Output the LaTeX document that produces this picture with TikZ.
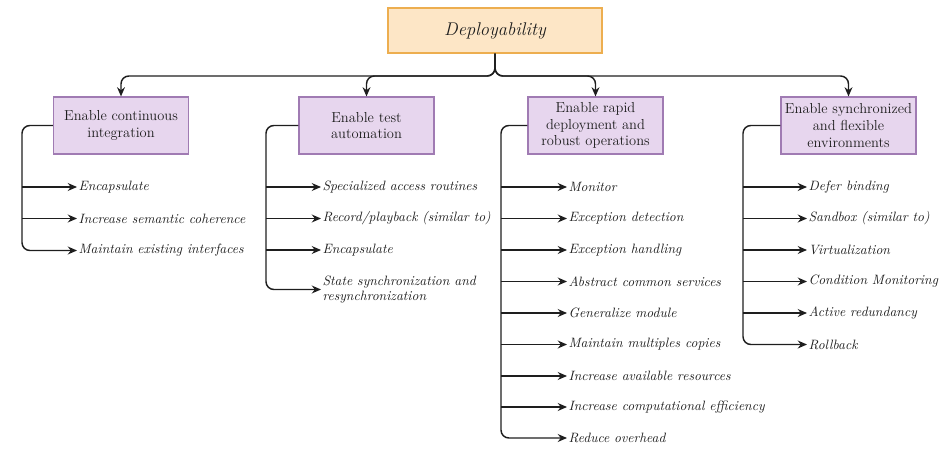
\documentclass[tikz,border=0pt]{standalone}
\usetikzlibrary{arrows.meta}
\definecolor{rootfill}{HTML}{FDE6C6}
\definecolor{rootdraw}{HTML}{EDAE4F}
\definecolor{tacfill}{HTML}{E7D6EE}
\definecolor{tacdraw}{HTML}{A07BB3}
\definecolor{ink}{HTML}{1E1E1E}
\begin{document}
\begin{tikzpicture}[x=0.76pt,y=-0.76pt,
  root/.style={draw=rootdraw, fill=rootfill, line width=1pt, minimum width=162.6pt, minimum height=34.2pt, font=\fontsize{14}{17}\selectfont\itshape, text=ink},
  tactic/.style={draw=tacdraw, fill=tacfill, line width=0.9pt, minimum width=102.6pt, minimum height=43.3pt, align=center, inner sep=2pt, text=ink, font=\fontsize{11}{12.6}\selectfont},
  item/.style={anchor=west, font=\fontsize{10.3}{11.6}\selectfont\itshape, inner sep=1pt, align=left, text=ink},
  link/.style={draw=ink, line width=1.1pt, rounded corners=6pt},
  arr/.style={link, -{Stealth[length=7pt,width=6pt]}},
  branch/.style={arr, rounded corners=0pt}
]
\useasboundingbox (0,0) rectangle (952,449);

% root quality attribute
\node[root] (root) at (495,30.5) {Deployability};
\coordinate (bus) at (0,76);

% tactic categories
\node[tactic] (c1) at (121,125.5) {Enable continuous\\integration};
\node[tactic] (c2) at (366.5,125.5) {Enable test\\automation};
\node[tactic] (c3) at (595.5,125.5) {Enable rapid\\deployment and\\robust operations};
\node[tactic] (c4) at (848.5,125.5) {Enable synchronized\\and flexible\\environments};

\foreach \c in {c1,c2,c3,c4}
  \draw[arr] (root.south) -- (root.south |- bus) -| (\c.north);

% trunks
\coordinate (t1) at (22,0);
\coordinate (t2) at (266,0);
\coordinate (t3) at (501,0);
\coordinate (t4) at (743,0);

% column 1
\node[item] (a1) at (77,187) {Encapsulate};
\node[item] (a2) at (77,218.5) {Increase semantic coherence};
\node[item] (a3) at (77,250.5) {Maintain existing interfaces};
\draw[arr] (c1.west) -| (t1 |- a3.west) -- (a3.west);
\foreach \i in {a1,a2} \draw[branch] (t1 |- \i.west) -- (\i.west);

% column 2
\node[item] (b1) at (321,187) {Specialized access routines};
\node[item] (b2) at (321,218.5) {Record/playback (similar to)};
\node[item] (b3) at (321,250) {Encapsulate};
\node[item] (b4) at (321,289.5) {State synchronization and\\resynchronization};
\draw[arr] (c2.west) -| (t2 |- b4.west) -- (b4.west);
\foreach \i in {b1,b2,b3} \draw[branch] (t2 |- \i.west) -- (\i.west);

% column 3
\node[item] (d1) at (567,187) {Monitor};
\node[item] (d2) at (567,218.5) {Exception detection};
\node[item] (d3) at (567,250) {Exception handling};
\node[item] (d4) at (567,281.5) {Abstract common services};
\node[item] (d5) at (567,313) {Generalize module};
\node[item] (d6) at (567,344.5) {Maintain multiples copies};
\node[item] (d7) at (567,376) {Increase available resources};
\node[item] (d8) at (567,407) {Increase computational efficiency};
\node[item] (d9) at (567,438) {Reduce overhead};
\draw[arr] (c3.west) -| (t3 |- d9.west) -- (d9.west);
\foreach \i in {d1,d2,d3,d4,d5,d6,d7,d8} \draw[branch] (t3 |- \i.west) -- (\i.west);

% column 4
\node[item] (e1) at (807,187) {Defer binding};
\node[item] (e2) at (807,218.5) {Sandbox (similar to)};
\node[item] (e3) at (807,250) {Virtualization};
\node[item] (e4) at (807,281.5) {Condition Monitoring};
\node[item] (e5) at (807,313) {Active redundancy};
\node[item] (e6) at (807,344.5) {Rollback};
\draw[arr] (c4.west) -| (t4 |- e6.west) -- (e6.west);
\foreach \i in {e1,e2,e3,e4,e5} \draw[branch] (t4 |- \i.west) -- (\i.west);
\end{tikzpicture}
\end{document}
